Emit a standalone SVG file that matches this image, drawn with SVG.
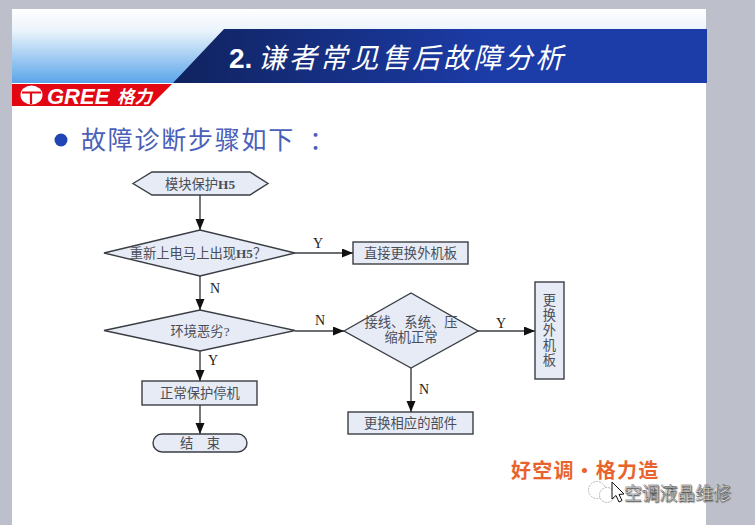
<svg xmlns="http://www.w3.org/2000/svg" width="755" height="525" viewBox="0 0 755 525">
<style>
text{font-family:"Noto Sans CJK SC",sans-serif}
.s{fill:#e6ebf5;stroke:#3a3e44;stroke-width:1.4}
.c{stroke:#3a3e44;stroke-width:1.4;fill:none;marker-end:url(#a)}
.t{font-family:"Liberation Serif","Noto Sans CJK SC",serif;font-size:13.3px;fill:#4a4e58;text-anchor:middle}
.h{font-weight:700}
.l{font-family:"Liberation Serif",serif;font-size:14px;fill:#222;text-anchor:middle}
</style>
<defs>
<marker id="a" markerUnits="userSpaceOnUse" markerWidth="12" markerHeight="10" refX="11" refY="4.500" orient="auto"><path d="M0 0L11 4.500L0 9Z" fill="#111"/></marker>
<linearGradient id="g" x1="0" y1="0" x2="0" y2="1"><stop offset="0" stop-color="#fff"/><stop offset=".3" stop-color="#eaf3fb"/><stop offset="1" stop-color="#5aa5ea"/></linearGradient>
<linearGradient id="b" x1="0" y1="0" x2="1" y2="0"><stop offset="0" stop-color="#10235f"/><stop offset=".6" stop-color="#1c3ca8"/><stop offset="1" stop-color="#1c3ca8"/></linearGradient>
</defs>
<rect width="755" height="525" fill="#bdc0ca"/>
<rect x="12" y="9" width="694" height="516" fill="#fff"/>
<g id="header">
<rect x="12" y="9" width="694" height="74" fill="url(#g)"/>
<path d="M224 29H707V83H173Z" fill="url(#b)"/>
<path d="M12 84H172L150 106H12Z" fill="#e30613"/>
<ellipse cx="31.500" cy="95" rx="11" ry="9.500" fill="#fff"/>
<path d="M22 92.500H41M31 92.500V104" stroke="#e30613" stroke-width="2.200" fill="none"/>
<text x="47" y="103.500" style="font-family:'Liberation Sans',sans-serif;font-weight:700;font-style:italic;font-size:22px" fill="#fff">GREE</text>
<text x="117" y="103" style="font-style:italic;font-weight:700;font-size:17.500px" fill="#fff">格力</text>
<text x="229" y="68" style="font-family:'Liberation Sans',sans-serif;font-weight:700;font-size:28px" fill="#fff">2.</text>
<text x="258" y="68" style="font-style:italic;font-size:28px;letter-spacing:2.800px" fill="#fff">谦者常见售后故障分析</text>
</g>
<g id="subtitle">
<circle cx="61" cy="140" r="6.500" fill="#2145b4"/>
<text x="81" y="149" style="font-size:25px;letter-spacing:1.750px" fill="#4a60b8">故障诊断步骤如下 <tspan dx="7">：</tspan></text>
</g>
<g id="connectors">
<path class="c" d="M200 195V230"/>
<path class="c" d="M295 253H353"/>
<path class="c" d="M200 276V310"/>
<path class="c" d="M295 331H344"/>
<path class="c" d="M200 351V381"/>
<path class="c" d="M200 405V434"/>
<path class="c" d="M478 331H535"/>
<path class="c" d="M411 368V412"/>
</g>
<g id="n1"><path class="s" d="M133 183.500L152 172H250L268 183.500L250 195H152Z"/><text class="t" x="200" y="188.500">模块保护<tspan class="h">H5</tspan></text></g>
<g id="n2"><path class="s" d="M104 253L200 230L295 253L200 276Z"/><text class="t" x="198" y="258">重新上电马上出现<tspan class="h">H5</tspan>？</text></g>
<g id="n3"><rect class="s" x="353" y="242" width="115" height="22"/><text class="t" x="410.500" y="257.500">直接更换外机板</text></g>
<g id="n4"><path class="s" d="M104 330.500L200 310L295 330.500L200 351Z"/><text class="t" x="200" y="335.500">环境恶劣?</text></g>
<g id="n5"><path class="s" d="M344 331L411 293L478 331L411 368Z"/><text class="t" x="411" y="327">接线、系统、压</text><text class="t" x="411" y="341.500">缩机正常</text></g>
<g id="n6"><rect class="s" x="535" y="282" width="29" height="97"/><text class="t" x="549.500" y="305">更</text><text class="t" x="549.500" y="320">换</text><text class="t" x="549.500" y="335">外</text><text class="t" x="549.500" y="350">机</text><text class="t" x="549.500" y="365">板</text></g>
<g id="n7"><rect class="s" x="142" y="381" width="115" height="24"/><text class="t" x="200" y="397.500">正常保护停机</text></g>
<g id="n8"><rect class="s" x="153" y="434" width="94" height="18" rx="9"/><text class="t" x="200" y="447.500">结　束</text></g>
<g id="n9"><rect class="s" x="348" y="412" width="125" height="22"/><text class="t" x="410.500" y="427.500">更换相应的部件</text></g>
<g id="labels">
<text class="l" x="318" y="248">Y</text>
<text class="l" x="215" y="293">N</text>
<text class="l" x="320" y="325">N</text>
<text class="l" x="213" y="365">Y</text>
<text class="l" x="501" y="328">Y</text>
<text class="l" x="424" y="394">N</text>
</g>
<g id="slogan">
<text x="511" y="478" style="font-weight:700;font-size:20px;letter-spacing:1.200px" fill="#e8642c">好空调·格力造</text>
</g>
<g id="watermark">
<circle cx="597" cy="490" r="8.500" fill="#fff" stroke="#aaa" stroke-width=".9" stroke-dasharray="2 1"/>
<circle cx="607" cy="495" r="7.500" fill="#fff" stroke="#aaa" stroke-width=".9" stroke-dasharray="2 1"/>
<path d="M612 482V499L616 495.500L619 502L622 500.500L619 494.500L624 494Z" fill="#fff" stroke="#111"/>
<text x="624" y="500" style="font-size:17.800px;text-shadow:1px 1px 1px #777" fill="#fff" stroke="#333" stroke-width=".3">空调液晶维修</text>
</g>
</svg>
